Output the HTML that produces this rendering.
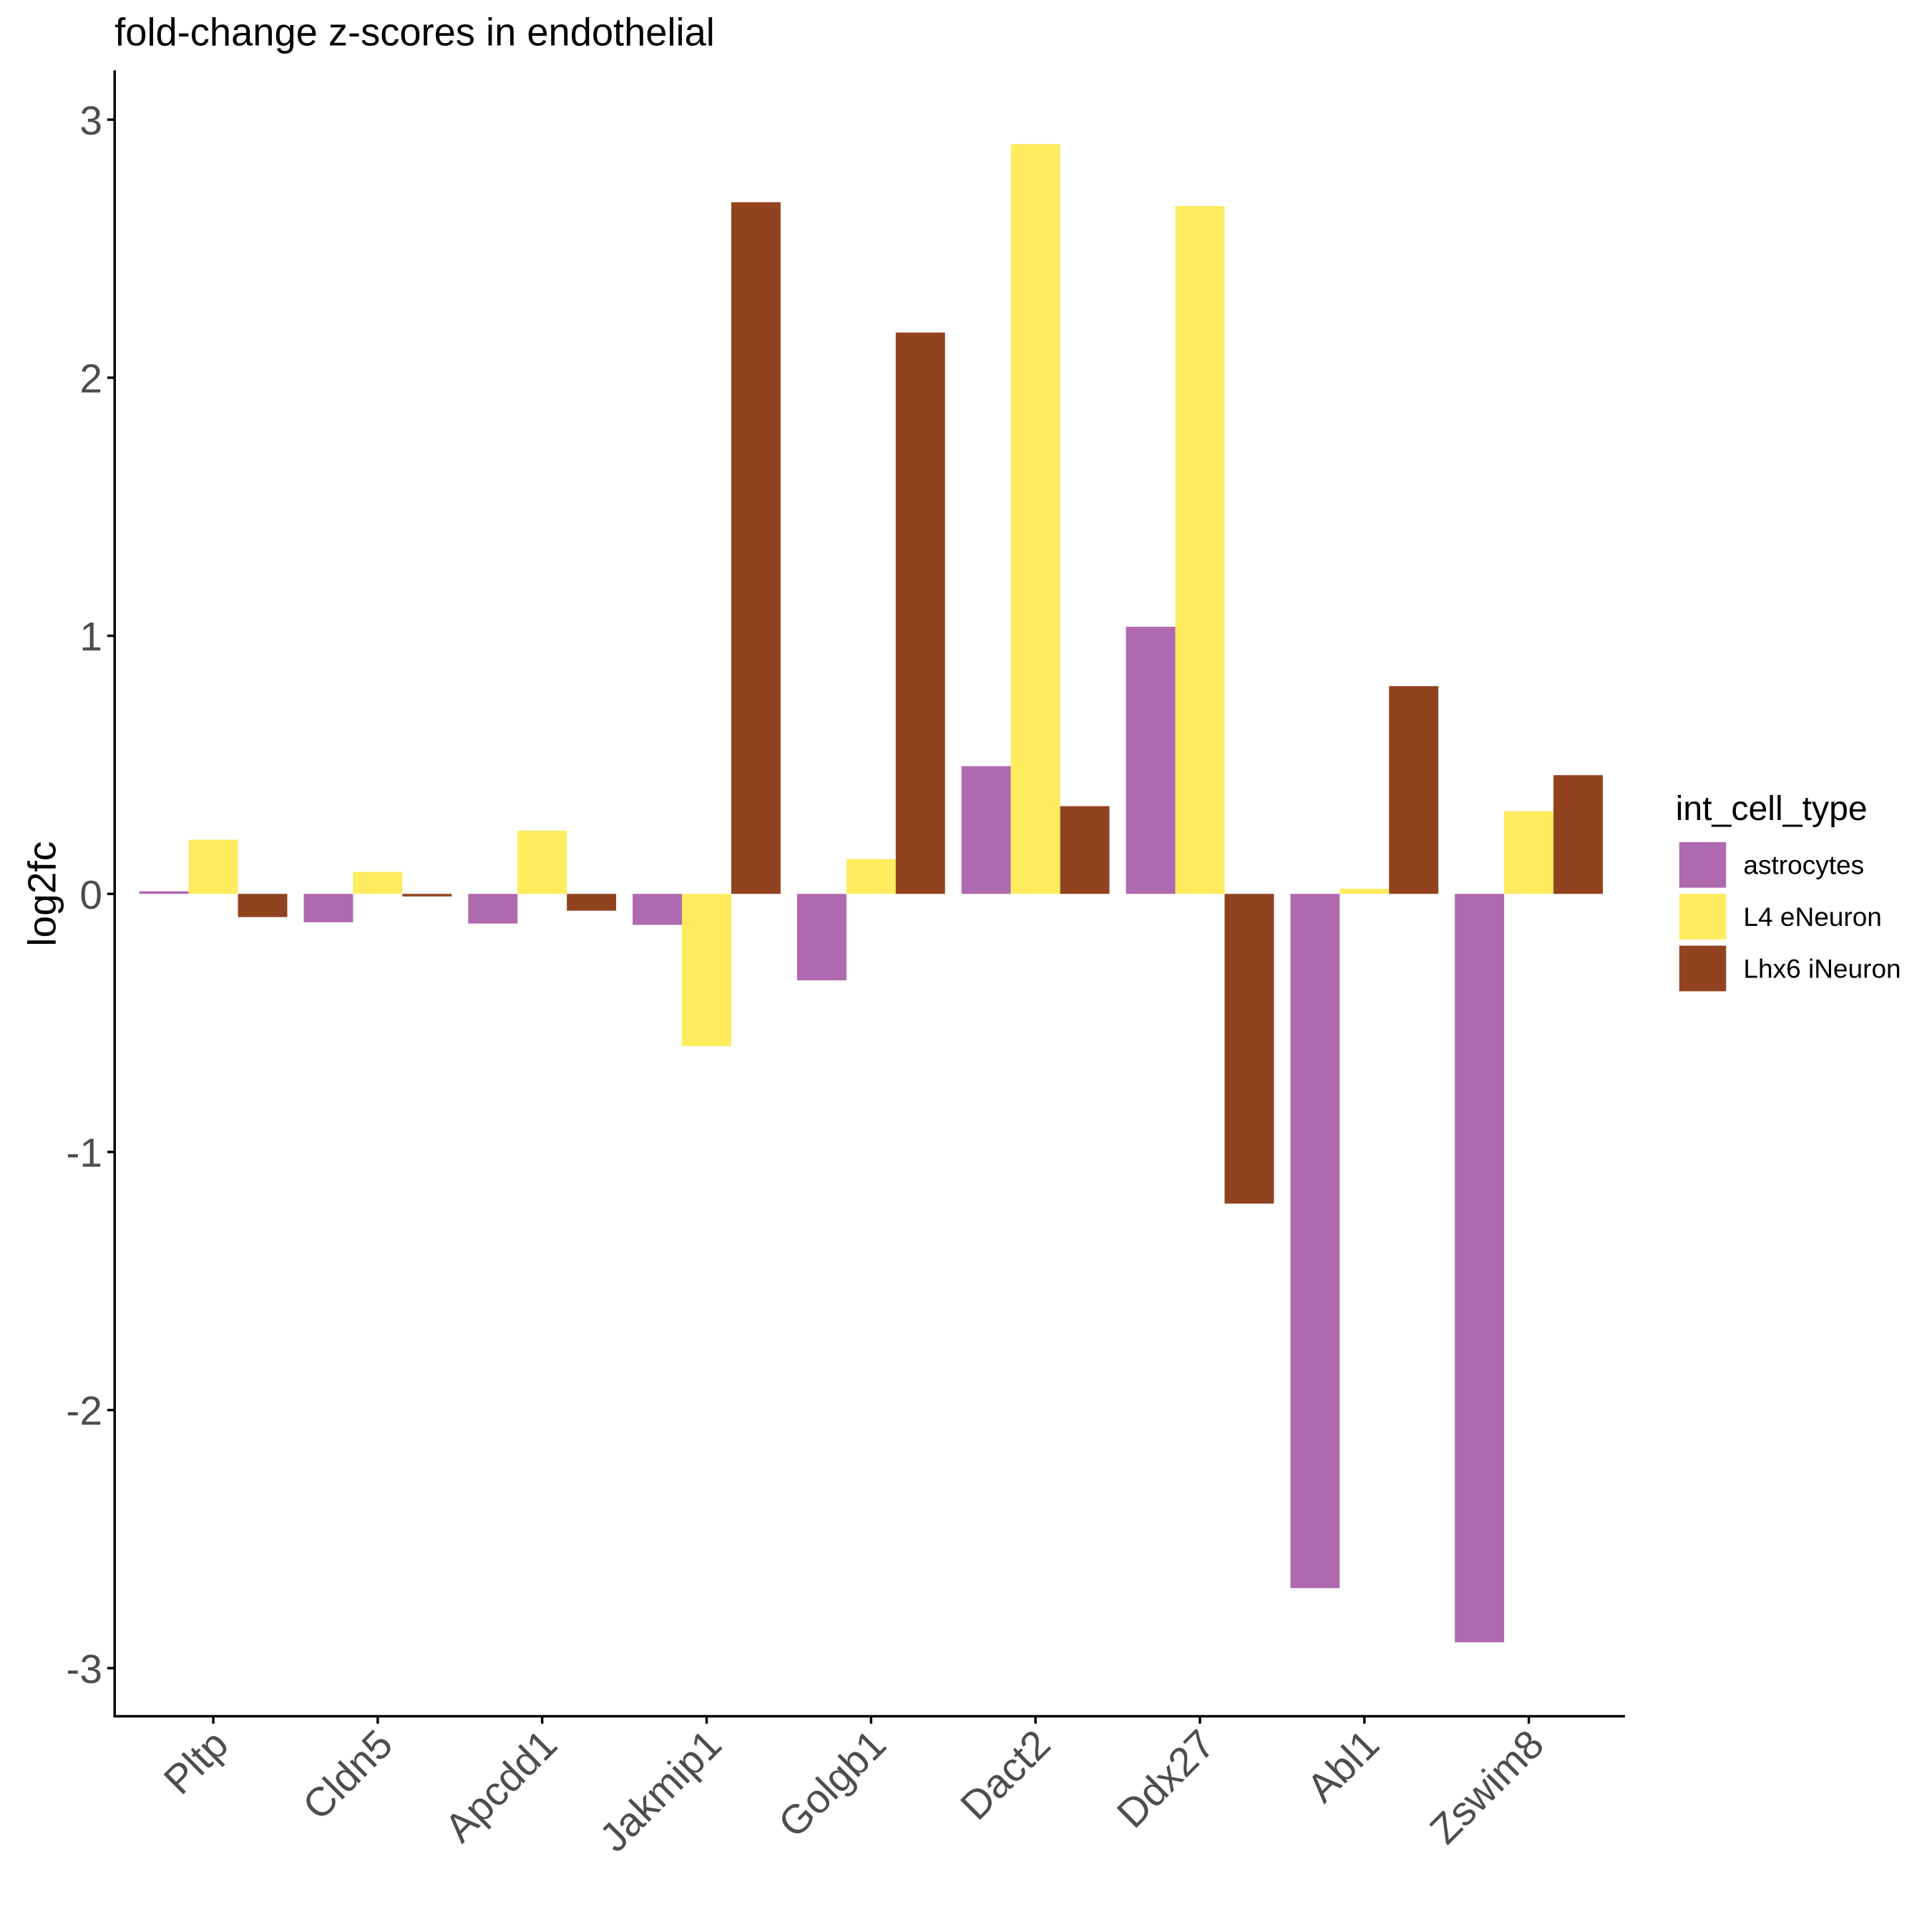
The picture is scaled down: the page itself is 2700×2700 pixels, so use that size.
<!DOCTYPE html>
<html><head><meta charset="utf-8"><style>html,body{margin:0;padding:0;background:#fff}svg{display:block}text{font-family:"Liberation Sans",Arial,sans-serif}</style></head>
<body>
<svg id="chart" width="2700" height="2700" viewBox="0 0 1567 1567" xmlns="http://www.w3.org/2000/svg">
<text x="93" y="37" font-size="31.5" fill="#000">fold-change z-scores in endothelial</text>
<text transform="translate(45,725) rotate(-90)" text-anchor="middle" font-size="32" fill="#000">log2fc</text>
<g id="bars"></g>
<g id="yaxis"></g>
<g id="xaxis"></g>
<line x1="93" y1="57" x2="93" y2="1392" stroke="#000" stroke-width="2"/>
<line x1="92" y1="1392" x2="1318" y2="1392" stroke="#000" stroke-width="2"/>
<g>
<text x="1359" y="665" font-size="28" fill="#000">int_cell_type</text>
<g id="legend"></g>
</g>
</svg>
<script>
const categories=["Pltp","Cldn5","Apcdd1","Jakmip1","Golgb1","Dact2","Ddx27","Abl1","Zswim8"];
const seriesNames=["astrocytes","L4 eNeuron","Lhx6 iNeuron"];
const astrocytes=[0.01,-0.11,-0.115,-0.12,-0.335,0.495,1.035,-2.69,-2.9];
const l4eNeuron=[0.21,0.085,0.245,-0.59,0.135,2.905,2.665,0.02,0.32];
const lhx6iNeuron=[-0.09,-0.01,-0.065,2.68,2.175,0.34,-1.2,0.805,0.46];
const yTicks=[-3,-2,-1,0,1,2,3];
const colors=["#AF69AF","#FEEB5E","#91431F"];
const series=[astrocytes,l4eNeuron,lhx6iNeuron];
const NS="http://www.w3.org/2000/svg";
function yScale(v){return 725-v*209.33;}
function xScale(i){return 173+i*133.375;}
const barW=40;
const bars=document.getElementById('bars');
series.forEach((s,si)=>{s.forEach((v,i)=>{
 const r=document.createElementNS(NS,'rect');
 const x=xScale(i)-60+si*barW;
 const y0=yScale(Math.max(v,0)),y1=yScale(Math.min(v,0));
 r.setAttribute('x',x);r.setAttribute('y',y0);r.setAttribute('width',barW);r.setAttribute('height',Math.max(y1-y0,0.5));
 r.setAttribute('fill',colors[si]);
 
 
 bars.appendChild(r);
});});
const ya=document.getElementById('yaxis');
yTicks.forEach(t=>{
 const y=yScale(t);
 const l=document.createElementNS(NS,'line');
 l.setAttribute('x1',87);l.setAttribute('x2',93);l.setAttribute('y1',y);l.setAttribute('y2',y);l.setAttribute('stroke','#000');l.setAttribute('stroke-width',2);
 
 
 ya.appendChild(l);
 const tx=document.createElementNS(NS,'text');
 tx.setAttribute('x',83);tx.setAttribute('y',y+12);tx.setAttribute('text-anchor','end');tx.setAttribute('font-size','33');tx.setAttribute('fill','#4d4d4d');
 tx.textContent=String(t);
 
 
 ya.appendChild(tx);
});
const xa=document.getElementById('xaxis');
categories.forEach((c,i)=>{
 const x=xScale(i);
 const l=document.createElementNS(NS,'line');
 l.setAttribute('x1',x);l.setAttribute('x2',x);l.setAttribute('y1',1392);l.setAttribute('y2',1398);l.setAttribute('stroke','#000');l.setAttribute('stroke-width',2);
 
 
 xa.appendChild(l);
 const tx=document.createElementNS(NS,'text');
 tx.setAttribute('transform','translate('+(x+14)+',1417) rotate(-45)');
 tx.setAttribute('text-anchor','end');tx.setAttribute('font-size','33');tx.setAttribute('fill','#4d4d4d');
 tx.textContent=c;
 
 
 xa.appendChild(tx);
});
const lg=document.getElementById('legend');
seriesNames.forEach((n,i)=>{
 const y=683+i*42;
 const r=document.createElementNS(NS,'rect');
 r.setAttribute('x',1362);r.setAttribute('y',y);r.setAttribute('width',38);r.setAttribute('height',37);r.setAttribute('fill',colors[i]);
 
 
 lg.appendChild(r);
 const t=document.createElementNS(NS,'text');
 t.setAttribute('x',1414);t.setAttribute('y',y+26);t.setAttribute('font-size','21.5');t.setAttribute('fill','#000');
 t.textContent=n;
 
 
 lg.appendChild(t);
});
</script>
</body></html>
